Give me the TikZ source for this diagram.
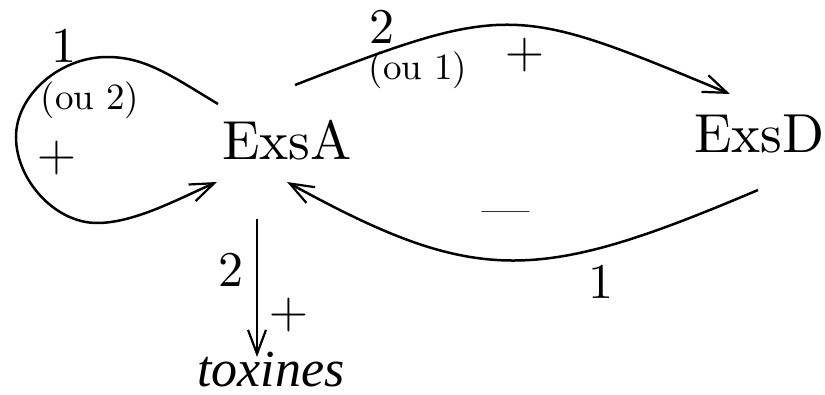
\documentclass[tikz,border=0pt]{standalone}
\usepackage{fontspec}
\newfontfamily\timesfont{Liberation Serif}[ItalicFont={Liberation Serif Italic}]
\newfontfamily\lmten{lmroman10-regular.otf}
\usetikzlibrary{arrows.meta,calc}
\begin{document}
\begin{tikzpicture}[x=1pt,y=-1pt,
  lbl/.style={inner sep=0pt, font=\lmten\fontsize{55}{60}\selectfont},
  num/.style={inner sep=0pt, font=\lmten\fontsize{50}{55}\selectfont},
  sml/.style={inner sep=0pt, font=\lmten\fontsize{37}{42}\selectfont},
  sgn/.style={inner sep=0pt, font=\fontsize{54}{60}\selectfont},
  conn/.style={line width=2.5pt, -{Straight Barb[length=24pt,width=18pt,line width=2.2pt]}},
]
\useasboundingbox (0,0) rectangle (825,395);
% main nodes
\node[lbl, anchor=base] (A) at (287,160) {ExsA};
\node[lbl, anchor=base] (D) at (759.5,153) {ExsD};
\node[inner sep=0pt, anchor=base, font=\timesfont\itshape\fontsize{52}{56}\selectfont] (T) at (271,387) {toxines};
% self loop on ExsA
\draw[conn] ($(A.base)+(-69,-56)$) .. controls (170,75) and (145,57) .. (107,57)
  .. controls (60,57) and (16,95) .. (16,137)
  .. controls (16,180) and (55,223) .. (97,223)
  .. controls (135,223) and (180,198) .. ($(A.base)+(-70,22)$);
% ExsA -> ExsD
\draw[conn] ($(A.base)+(8,-75)$) .. controls (509,2) and (516,5) .. ($(D.base)+(-29.5,-59)$);
% ExsD -> ExsA
\draw[conn] ($(D.base)+(-1.5,37)$) .. controls (538,283.5) and (477,286.5) .. ($(A.base)+(0,22)$);
% ExsA -> toxines
\draw[conn] ($(A.base)+(-30,59)$) -- ($(T.base)+(-14,-30)$);
% labels
\node[num] (l1) at (64,46) {1};
\node[sml] (o2) at (90,100) {(ou 2)};
\node[sgn] (p1) at (57,158) {+};
\node[num] (l2) at (382,27) {2};
\node[sml] (o1) at (418,70) {(ou 1)};
\node[sgn] (p2) at (525,55) {+};
\node[inner sep=0pt, anchor=base, font=\fontsize{51}{56}\selectfont] (m) at (506,226) {—};
\node[num] (l3) at (601,282) {1};
\node[num] (l4) at (231,270) {2};
\node[sgn] (p3) at (289,315) {+};
\end{tikzpicture}
\end{document}
